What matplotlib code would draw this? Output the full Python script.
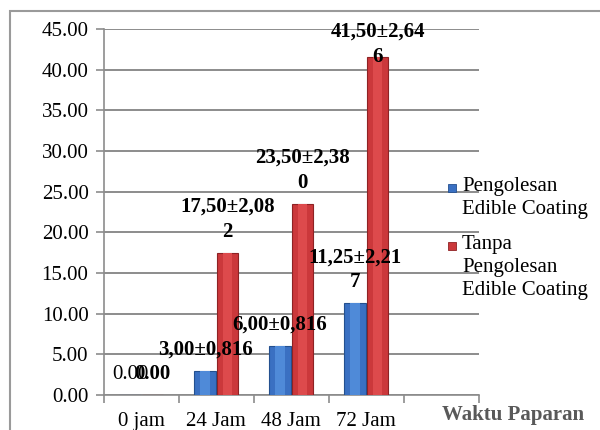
import matplotlib.pyplot as plt
from matplotlib.patches import Rectangle
import numpy as np


CATEGORIES = ["0 jam", "24 Jam", "48 Jam", "72 Jam", ""]

WITH_COATING = [0.00, 3.00, 6.00, 11.25]
WITHOUT_COATING = [0.00, 17.50, 23.50, 41.50]

WITH_LABELS = ["0.00", "3,00\u00b10,816", "6,00\u00b10,816", "11,25\u00b12,21\n7"]
WITHOUT_LABELS = ["0.00", "17,50\u00b12,08\n2", "23,50\u00b12,38\n0", "41,50\u00b12,64\n6"]

SERIES_NAMES = ["Pengolesan\nEdible Coating", "Tanpa\nPengolesan\nEdible Coating"]

Y_TICKS = np.arange(0, 50, 5)

BLUE = "#3A70C2"
BLUE_EDGE = "#24508F"
RED = "#CB383B"
RED_EDGE = "#8E2224"

plt.rcParams["font.family"] = ["Liberation Serif", "DejaVu Serif"]


# =========================================================
# FIGURE
# =========================================================

fig = plt.figure(figsize=(6, 4.3), dpi=100)

ax = fig.add_axes([0.173, 0.0814, 0.625, 0.8512])

# outer chart frame
fig.patches.append(Rectangle((10 / 600, -0.2), 1.2, 1.2 - 11 / 430,
                             transform=fig.transFigure, fill=False,
                             edgecolor="#9a9a9a", linewidth=1.5, zorder=0))

x = np.arange(len(WITH_COATING)) + 0.5
width = 0.29

ax.bar(x - 0.15, WITH_COATING, width, color=BLUE, edgecolor=BLUE_EDGE,
       linewidth=0.8, zorder=3)
ax.bar(x + 0.15, WITHOUT_COATING, width, color=RED, edgecolor=RED_EDGE,
       linewidth=0.8, zorder=3)

# lighter centre strip for a bevel look
ax.bar(x - 0.15, WITH_COATING, width * 0.45, color="#4F8AD8", linewidth=0,
       zorder=3)
ax.bar(x + 0.15, WITHOUT_COATING, width * 0.45, color="#DD4A4C", linewidth=0,
       zorder=3)


# =========================================================
# DATA LABELS
# =========================================================

def add_label(xpos, value, text, bold=True):
    n_lines = text.count("\n") + 1
    weight = "bold" if bold else "normal"
    if n_lines == 2 and 45 - value < 8:
        # label pushed inside the plot area
        ax.annotate(text, (xpos, 45), xytext=(0, 5), textcoords="offset points",
                    ha="center", va="top", fontsize=15, fontweight=weight,
                    linespacing=1.35, zorder=5)
    else:
        ax.annotate(text, (xpos, value), xytext=(0, 8), textcoords="offset points",
                    ha="center", va="bottom", fontsize=15, fontweight=weight,
                    linespacing=1.35, zorder=5)


for i in range(len(WITH_COATING)):
    add_label(x[i] - 0.15, WITH_COATING[i], WITH_LABELS[i], bold=(i != 0))
    add_label(x[i] + 0.15, WITHOUT_COATING[i], WITHOUT_LABELS[i])


# =========================================================
# AXES
# =========================================================

ax.set_xlim(0, len(CATEGORIES))
ax.set_ylim(0, 45)

ax.set_yticks(Y_TICKS)
ax.set_yticklabels([f"{v:.2f}" for v in Y_TICKS], fontsize=15)

ax.set_xticks(np.arange(len(CATEGORIES) + 1))
ax.set_xticklabels([])
ax.set_xticks(np.arange(len(CATEGORIES)) + 0.5, minor=True)
ax.set_xticklabels(CATEGORIES, minor=True, fontsize=15)

ax.tick_params(axis="x", which="major", length=6, color="#8c8c8c", width=1.2)
ax.tick_params(axis="x", which="minor", length=0, pad=12)
ax.tick_params(axis="y", length=6, color="#8c8c8c", width=1.2, pad=5)

ax.grid(axis="y", color="#8c8c8c", linewidth=1.4, zorder=0)
ax.set_axisbelow(True)

for side in ["top", "right"]:
    ax.spines[side].set_visible(False)
for side in ["left", "bottom"]:
    ax.spines[side].set_color("#8c8c8c")
    ax.spines[side].set_linewidth(1.2)

fig.text(513 / 600, 1 - 415 / 430, "Waktu Paparan", ha="center", va="center",
         fontsize=15, fontweight="bold", color="#595959")


# =========================================================
# LEGEND
# =========================================================

legend_rows = [187, 245]
for name, color, edge, row in zip(SERIES_NAMES, [BLUE, RED], [BLUE_EDGE, RED_EDGE],
                                  legend_rows):
    fig.patches.append(Rectangle((448 / 600, 1 - (row + 5) / 430), 8 / 600, 8 / 430,
                                 transform=fig.transFigure, facecolor=color,
                                 edgecolor=edge, linewidth=0.6))
    fig.text(462 / 600, 1 - (row - 10) / 430, name, ha="left", va="top",
             fontsize=15, linespacing=1.3)

plt.savefig("out.png", dpi=100)
